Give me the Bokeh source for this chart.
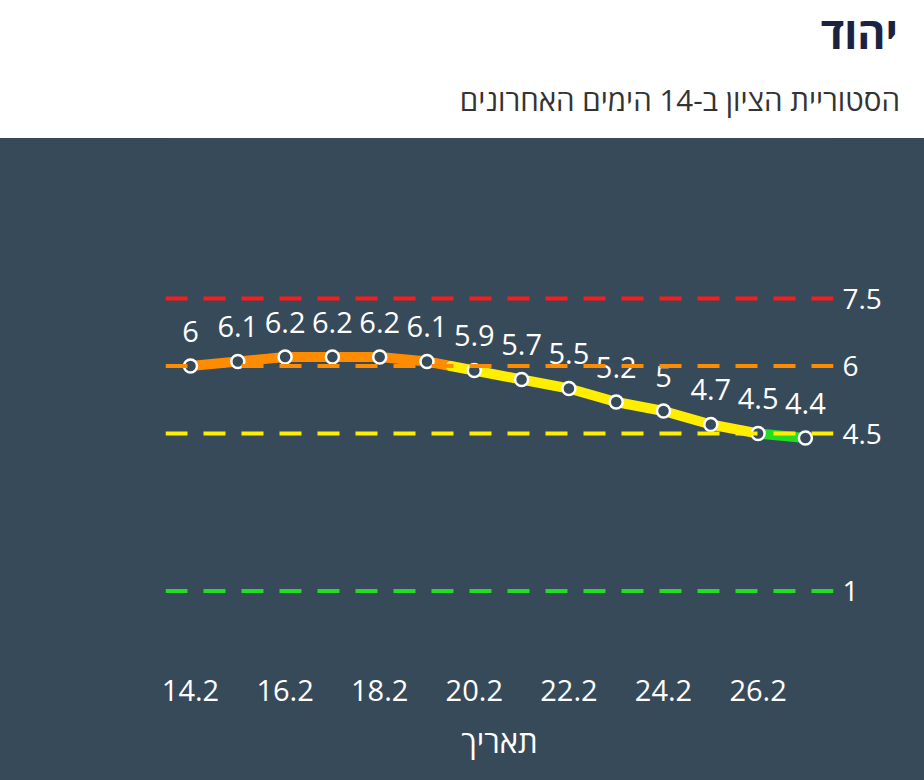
from bokeh.plotting import figure
from bokeh.models import Span, FixedTicker, Div, ColumnDataSource
from bokeh.layouts import column
from bokeh.core.properties import value
from bokeh.embed import file_html
from bokeh.resources import INLINE

title_text = "יהוד"
subtitle_text = "הסטוריית הציון ב-14 הימים האחרונים"
x_title = "תאריך"

dates = ["14.2", "15.2", "16.2", "17.2", "18.2", "19.2", "20.2",
         "21.2", "22.2", "23.2", "24.2", "25.2", "26.2", "27.2"]
scores = [6, 6.1, 6.2, 6.2, 6.2, 6.1, 5.9, 5.7, 5.5, 5.2, 5, 4.7, 4.5, 4.4]

thresholds = [7.5, 6, 4.5, 1]
threshold_colors = ["#ff1a1a", "#ff8c00", "#ffee00", "#22dd22"]

BG = "#374a5a"
FONT = "Open Sans"

xs = list(range(len(dates)))


def color_for(v):
    if v >= 6:
        return "#ff8c00"
    if v >= 4.5:
        return "#ffee00"
    return "#22dd22"


# split the line where it crosses the 6 / 4.5 boundaries
seg_x, seg_y, seg_c = [], [], []
for i in range(len(scores) - 1):
    x0, y0, x1, y1 = xs[i], scores[i], xs[i + 1], scores[i + 1]
    cuts = [0.0, 1.0]
    for t in (6, 4.5):
        if (y0 - t) * (y1 - t) < 0:
            cuts.append((t - y0) / (y1 - y0))
    cuts = sorted(cuts)
    for a, b in zip(cuts[:-1], cuts[1:]):
        xa, ya = x0 + a * (x1 - x0), y0 + a * (y1 - y0)
        xb, yb = x0 + b * (x1 - x0), y0 + b * (y1 - y0)
        seg_x.append([xa, xb])
        seg_y.append([ya, yb])
        seg_c.append(color_for((ya + yb) / 2 - 1e-9))

header = Div(
    text=(
        f'<div dir="rtl" style="position:relative;width:924px;height:138px;background:#ffffff;font-family:\'Open Sans\';">'
        f'<div style="position:absolute;right:26px;top:2px;font-size:43px;font-weight:bold;color:#1c2340;">{title_text}</div>'
        f'<div style="position:absolute;right:24px;top:79px;font-size:29.5px;color:#333333;">{subtitle_text}</div>'
        f'</div>'
    ),
    width=924, height=138, margin=(0, 0, 0, 0),
)

p = figure(
    width=924, height=642, output_backend="svg", toolbar_location=None,
    x_range=(-0.5285, 13.594), y_range=(-0.5, 11.056),
    y_axis_location="right",
    min_border_left=165, min_border_right=91, min_border_top=0, min_border_bottom=122,
    background_fill_color=BG, border_fill_color=BG, outline_line_color=None,
    styles={"background-color": BG},
)
p.grid.visible = False

for t, c in zip(thresholds, threshold_colors):
    p.add_layout(Span(location=t, dimension="width", line_color=c,
                      line_width=4, line_dash="22 16"))

p.multi_line(xs=seg_x, ys=seg_y, line_color=seg_c, line_width=10, line_cap="round")

src = ColumnDataSource(dict(x=xs, y=scores, label=[f"{v:g}" for v in scores]))
p.scatter("x", "y", source=src, size=13, fill_color=BG, line_color="white", line_width=2.5)
p.text("x", "y", text="label", source=src, text_color="white",
       text_font=value(FONT), text_font_size="29px", text_align="center",
       text_baseline="middle", y_offset=-35)

xa = p.xaxis[0]
xa.ticker = FixedTicker(ticks=xs[::2])
xa.major_label_overrides = {i: dates[i] for i in xs}
xa.axis_line_color = None
xa.major_tick_line_color = None
xa.minor_tick_line_color = None
xa.major_label_text_color = "white"
xa.major_label_text_font = FONT
xa.major_label_text_font_size = "29px"
xa.major_label_standoff = 15
xa.axis_label = x_title
xa.axis_label_text_color = "white"
xa.axis_label_text_font = FONT
xa.axis_label_text_font_style = "normal"
xa.axis_label_text_font_size = "31px"
xa.axis_label_standoff = 16

ya = p.yaxis[0]
ya.ticker = FixedTicker(ticks=thresholds)
ya.axis_line_color = None
ya.major_tick_line_color = None
ya.minor_tick_line_color = None
ya.major_label_text_color = "white"
ya.major_label_text_font = FONT
ya.major_label_text_font_size = "28px"
ya.major_label_standoff = 3

layout = column(header, p, spacing=0, margin=(0, 0, 0, 0))

open("out.html", "w").write(file_html(layout, INLINE))
